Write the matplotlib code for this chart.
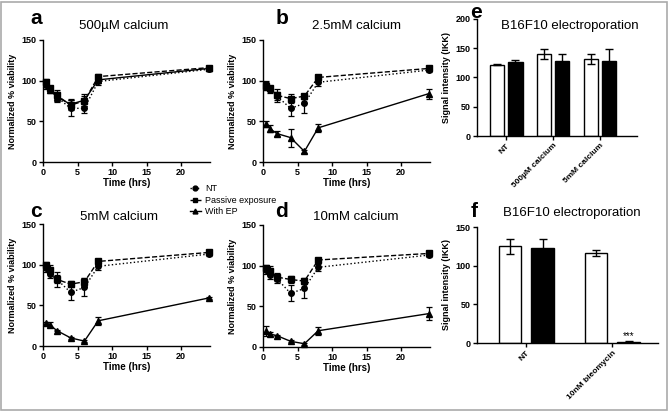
import numpy as np
import matplotlib.pyplot as plt
from matplotlib.patches import Rectangle
from matplotlib.lines import Line2D

plt.rcParams['font.family'] = ['Liberation Sans', 'DejaVu Sans']

# time points (hrs)
t = [0.5, 1, 2, 4, 6, 8, 24]

# panel a: 500uM calcium
a_nt = [95, 90, 80, 66, 66, 99, 114]
a_nt_err = [5, 4, 6, 10, 6, 4, 2]
a_pe = [98, 91, 82, 70, 75, 105, 116]
a_pe_err = [4, 3, 7, 6, 6, 3, 2]
a_ep = [96, 89, 80, 71, 76, 101, 115]
a_ep_err = [4, 4, 5, 6, 7, 4, 2]

# panel b: 2.5mM calcium
b_nt = [93, 89, 81, 66, 72, 98, 113]
b_nt_err = [5, 4, 5, 10, 12, 4, 2]
b_pe = [94, 91, 82, 78, 81, 104, 115]
b_pe_err = [6, 3, 8, 6, 3, 3, 2]
b_ep = [47, 41, 35, 30, 13, 42, 84]
b_ep_err = [4, 4, 3, 11, 2, 5, 6]

# panel c: 5mM calcium
c_nt = [96, 88, 82, 66, 72, 98, 113]
c_nt_err = [5, 4, 5, 10, 11, 4, 2]
c_pe = [100, 94, 82, 76, 79, 104, 115]
c_pe_err = [3, 5, 9, 4, 5, 3, 2]
c_ep = [28, 26, 19, 10, 6, 31, 59]
c_ep_err = [2, 3, 1, 1, 1, 5, 1]

# panel d: 10mM calcium
d_nt = [95, 88, 84, 66, 72, 98, 113]
d_nt_err = [5, 4, 5, 10, 12, 4, 2]
d_pe = [97, 94, 86, 83, 81, 107, 115]
d_pe_err = [4, 5, 5, 4, 4, 3, 2]
d_ep = [20, 16, 14, 7, 4, 20, 41]
d_ep_err = [6, 2, 1, 1, 1, 5, 8]

# panel e
e_groups = ['NT', '500µM calcium', '5mM calcium']
e_white = [122, 140, 132]
e_white_err = [1, 8, 9]
e_black = [126, 128, 128]
e_black_err = [4, 13, 21]

# panel f
f_groups = ['NT', '10nM bleomycin']
f_white = [125, 116]
f_white_err = [10, 4]
f_black = [123, 1.5]
f_black_err = [11, 0.5]

W, H = 669, 411
fig = plt.figure(figsize=(W / 100, H / 100), dpi=100)
fig.patches.append(Rectangle((0.002, 0.003), 0.995, 0.993, transform=fig.transFigure,
                             fill=False, edgecolor='#aaaaaa', linewidth=1.2))


def box(l, t_, r, b):
    return [l / W, 1 - b / H, (r - l) / W, (b - t_) / H]


def style(ax, xsize=6.5):
    for s in ['top', 'right']:
        ax.spines[s].set_visible(False)
    for s in ['left', 'bottom']:
        ax.spines[s].set_linewidth(1.0)
    ax.tick_params(length=3, width=1, labelsize=6.5, pad=1.5)
    ax.tick_params(axis='x', labelsize=xsize)
    for lab in ax.get_xticklabels() + ax.get_yticklabels():
        lab.set_fontweight('bold')


def line_panel(ax, nt, nte, pe, pee, ep, epe):
    kw = dict(color='black', capsize=2.2, elinewidth=0.9, capthick=0.9, lw=1.0, clip_on=False)
    ax.errorbar(t, nt, yerr=nte, marker='o', ms=4, ls=':', **kw)
    ax.errorbar(t, pe, yerr=pee, marker='s', ms=4.3, ls='--', **kw)
    ax.errorbar(t, ep, yerr=epe, marker='^', ms=4, ls='-', **kw)
    ax.set_xlim(0, 24.2)
    ax.set_ylim(0, 150)
    ax.set_xticks([0, 5, 10, 15, 20])
    ax.set_yticks([0, 50, 100, 150])
    ax.spines['left'].set_bounds(0, 150)
    ax.spines['bottom'].set_bounds(0, 24.2)
    ax.set_xlabel('Time (hrs)', fontsize=7, fontweight='bold', labelpad=0.5)
    ax.set_ylabel('Normalized % viability', fontsize=6.5, fontweight='bold', labelpad=3)
    style(ax)


axa = fig.add_axes(box(43, 40, 210, 162))
line_panel(axa, a_nt, a_nt_err, a_pe, a_pe_err, a_ep, a_ep_err)
axb = fig.add_axes(box(263, 40, 430, 162))
line_panel(axb, b_nt, b_nt_err, b_pe, b_pe_err, b_ep, b_ep_err)
axc = fig.add_axes(box(43, 224, 210, 346))
line_panel(axc, c_nt, c_nt_err, c_pe, c_pe_err, c_ep, c_ep_err)
axd = fig.add_axes(box(263, 225, 430, 347))
line_panel(axd, d_nt, d_nt_err, d_pe, d_pe_err, d_ep, d_ep_err)

handles = [Line2D([], [], color='black', marker='o', ms=3.5, ls=':', lw=1),
           Line2D([], [], color='black', marker='s', ms=3.5, ls='--', lw=1),
           Line2D([], [], color='black', marker='^', ms=3.5, ls='-', lw=1)]
fig.legend(handles, ['NT', 'Passive exposure', 'With EP'], loc='upper left',
           bbox_to_anchor=(190 / W, 1 - 184 / H), frameon=False,
           fontsize=6.5, handlelength=1.2, handletextpad=0.5, labelspacing=0.3,
           borderpad=0, borderaxespad=0)


def bar_panel(ax, groups, white, werr, black, berr, off, bw, xlim, ylim, yticks):
    x = np.arange(len(groups))
    ax.bar(x - off, white, bw, yerr=werr, color='white', edgecolor='black', lw=1.0,
           error_kw=dict(capsize=3, elinewidth=1, capthick=1), ecolor='black')
    ax.bar(x + off, black, bw, yerr=berr, color='black', edgecolor='black', lw=1.0,
           error_kw=dict(capsize=3, elinewidth=1, capthick=1), ecolor='black')
    ax.set_xlim(*xlim)
    ax.set_ylim(*ylim)
    ax.set_yticks(yticks)
    ax.set_xticks(x)
    ax.set_xticklabels(groups, rotation=45, ha='right', rotation_mode='anchor')
    ax.spines['left'].set_bounds(ylim[0], ylim[1])
    ax.set_ylabel('Signal intensity (IKK)', fontsize=6.5, fontweight='bold', labelpad=3)
    style(ax, xsize=6)


axe = fig.add_axes(box(477, 19, 637, 136))
bar_panel(axe, e_groups, e_white, e_white_err, e_black, e_black_err, 0.2, 0.3,
          (-0.62, 2.79), (0, 200), [0, 50, 100, 150, 200])

axf = fig.add_axes(box(477, 227, 658, 343))
bar_panel(axf, f_groups, f_white, f_white_err, f_black, f_black_err, 0.19, 0.26,
          (-0.57, 1.53), (0, 150), [0, 50, 100, 150])
axf.text(1 + 0.19, 3, '***', ha='center', va='bottom', fontsize=7)

# panel letters and titles
letters = [('a', 36, 19), ('b', 282, 19), ('e', 476, 12),
           ('c', 36, 211), ('d', 282, 211), ('f', 474, 211)]
for s, x, y in letters:
    fig.text(x / W, 1 - y / H, s, fontsize=15, fontweight='bold', ha='center', va='center')

titles = [('500µM calcium', 124, 26), ('2.5mM calcium', 356, 26),
          ('B16F10 electroporation', 570, 26), ('5mM calcium', 119, 217),
          ('10mM calcium', 356, 217), ('B16F10 electroporation', 572, 213)]
for s, x, y in titles:
    fig.text(x / W, 1 - y / H, s, fontsize=9.5, ha='center', va='center')

fig.savefig('out.png', dpi=100)
